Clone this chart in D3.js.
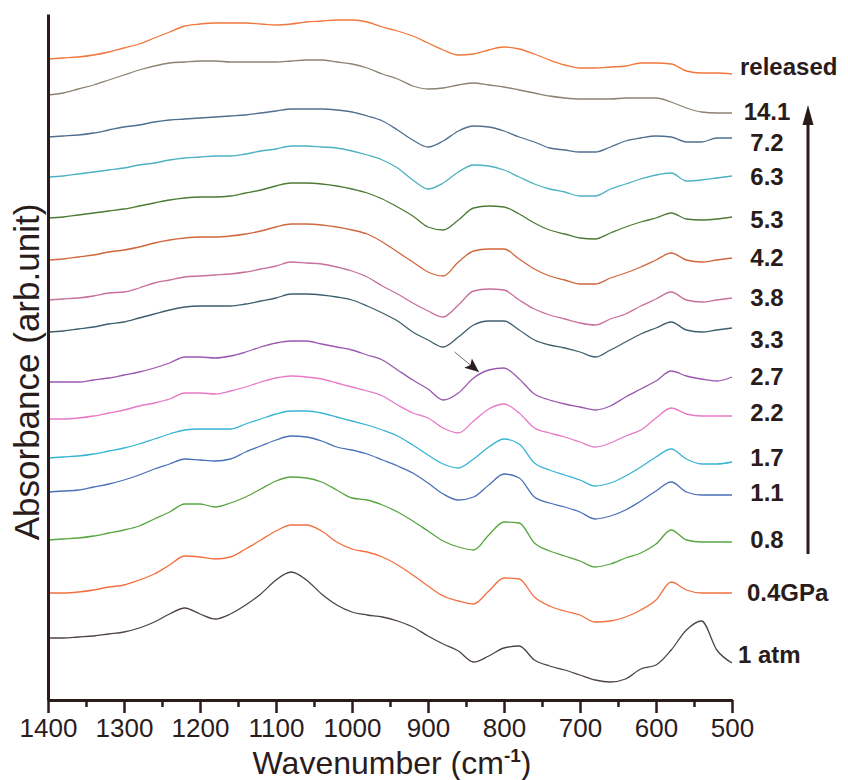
<!DOCTYPE html>
<html>
<head>
<meta charset="utf-8">
<script src="https://cdn.jsdelivr.net/npm/d3@7"></script>
<style>
    body { margin: 0; background: #fff; }
    svg { display: block; }
</style>
</head>
<body>
<div id="container"></div>
<script>
(function () {
    // wavenumber grid (cm-1) shared by all spectra
    var wavenumbers = [1400, 1380, 1360, 1340, 1320, 1300, 1280, 1260, 1240, 1220, 1200, 1180, 1160, 1140, 1120,
        1100, 1080, 1060, 1040, 1020, 1000, 980, 960, 940, 920, 900, 880, 860, 840, 820,
        800, 780, 760, 740, 720, 700, 680, 660, 640, 620, 600, 580, 560, 540, 520, 500];

    // stacked absorbance (arb. unit, offset included)
    var released = [6.41, 6.42, 6.43, 6.45, 6.48, 6.52, 6.56, 6.62, 6.68, 6.74, 6.76, 6.77, 6.77, 6.77, 6.76,
        6.75, 6.76, 6.78, 6.79, 6.80, 6.80, 6.78, 6.73, 6.69, 6.64, 6.57, 6.50, 6.45, 6.46, 6.50,
        6.53, 6.51, 6.46, 6.40, 6.35, 6.32, 6.32, 6.33, 6.34, 6.37, 6.37, 6.36, 6.29, 6.27, 6.27, 6.26];
    var p141 = [6.05, 6.07, 6.11, 6.15, 6.20, 6.25, 6.30, 6.34, 6.37, 6.38, 6.39, 6.39, 6.38, 6.38, 6.38,
        6.38, 6.39, 6.40, 6.40, 6.38, 6.36, 6.32, 6.26, 6.21, 6.14, 6.11, 6.12, 6.15, 6.17, 6.15,
        6.13, 6.10, 6.07, 6.04, 6.02, 6.01, 6.01, 6.01, 6.02, 6.02, 6.02, 5.98, 5.92, 5.88, 5.87, 5.87];
    var p72 = [5.63, 5.64, 5.65, 5.67, 5.70, 5.73, 5.75, 5.78, 5.80, 5.81, 5.82, 5.83, 5.84, 5.85, 5.87,
        5.89, 5.91, 5.91, 5.91, 5.90, 5.88, 5.84, 5.79, 5.70, 5.60, 5.53, 5.59, 5.69, 5.74, 5.73,
        5.69, 5.63, 5.58, 5.52, 5.50, 5.48, 5.48, 5.53, 5.59, 5.62, 5.64, 5.63, 5.58, 5.58, 5.62, 5.62];
    var p63 = [5.23, 5.24, 5.26, 5.28, 5.30, 5.32, 5.35, 5.37, 5.40, 5.42, 5.43, 5.44, 5.44, 5.46, 5.49,
        5.51, 5.54, 5.54, 5.53, 5.52, 5.49, 5.45, 5.40, 5.32, 5.20, 5.11, 5.17, 5.28, 5.35, 5.34,
        5.30, 5.23, 5.16, 5.11, 5.08, 5.04, 5.04, 5.11, 5.16, 5.21, 5.25, 5.27, 5.19, 5.20, 5.22, 5.24];
    var p53 = [4.82, 4.83, 4.85, 4.87, 4.89, 4.91, 4.94, 4.97, 5.00, 5.02, 5.03, 5.03, 5.04, 5.07, 5.10,
        5.14, 5.17, 5.17, 5.16, 5.14, 5.11, 5.07, 5.01, 4.93, 4.84, 4.73, 4.70, 4.80, 4.92, 4.94,
        4.93, 4.86, 4.77, 4.70, 4.66, 4.62, 4.61, 4.67, 4.73, 4.78, 4.82, 4.87, 4.81, 4.80, 4.81, 4.83];
    var p42 = [4.40, 4.41, 4.43, 4.45, 4.48, 4.50, 4.53, 4.57, 4.60, 4.62, 4.63, 4.63, 4.64, 4.66, 4.69,
        4.73, 4.76, 4.76, 4.75, 4.73, 4.70, 4.66, 4.58, 4.48, 4.38, 4.28, 4.24, 4.38, 4.49, 4.51,
        4.51, 4.41, 4.31, 4.24, 4.20, 4.16, 4.16, 4.22, 4.27, 4.33, 4.40, 4.47, 4.40, 4.38, 4.40, 4.42];
    var p38 = [4.00, 4.01, 4.02, 4.04, 4.07, 4.08, 4.12, 4.17, 4.20, 4.23, 4.24, 4.25, 4.26, 4.28, 4.31,
        4.34, 4.38, 4.37, 4.36, 4.33, 4.29, 4.23, 4.14, 4.06, 3.97, 3.89, 3.83, 3.95, 4.09, 4.11,
        4.10, 4.00, 3.91, 3.85, 3.81, 3.77, 3.75, 3.81, 3.86, 3.94, 4.01, 4.08, 4.00, 3.98, 4.00, 4.02];
    var p33 = [3.68, 3.69, 3.71, 3.73, 3.76, 3.78, 3.82, 3.86, 3.90, 3.93, 3.94, 3.94, 3.94, 3.96, 3.99,
        4.02, 4.06, 4.06, 4.05, 4.03, 4.00, 3.94, 3.87, 3.79, 3.68, 3.60, 3.53, 3.63, 3.75, 3.79,
        3.79, 3.70, 3.60, 3.55, 3.52, 3.48, 3.43, 3.50, 3.58, 3.66, 3.72, 3.78, 3.70, 3.68, 3.70, 3.72];
    var p27 = [3.18, 3.18, 3.18, 3.20, 3.22, 3.25, 3.28, 3.32, 3.37, 3.43, 3.43, 3.42, 3.44, 3.48, 3.53,
        3.57, 3.59, 3.59, 3.56, 3.53, 3.50, 3.45, 3.40, 3.30, 3.20, 3.11, 3.00, 3.07, 3.22, 3.30,
        3.32, 3.21, 3.06, 3.00, 2.96, 2.93, 2.90, 2.94, 3.03, 3.11, 3.19, 3.29, 3.24, 3.21, 3.19, 3.23];
    var p22 = [2.81, 2.81, 2.82, 2.84, 2.87, 2.90, 2.94, 2.97, 3.01, 3.07, 3.07, 3.06, 3.09, 3.13, 3.18,
        3.22, 3.24, 3.23, 3.21, 3.17, 3.13, 3.09, 3.04, 2.95, 2.87, 2.82, 2.72, 2.67, 2.79, 2.91,
        2.96, 2.87, 2.72, 2.67, 2.63, 2.58, 2.53, 2.57, 2.64, 2.70, 2.82, 2.92, 2.86, 2.84, 2.84, 2.84];
    var p17 = [2.42, 2.43, 2.44, 2.46, 2.49, 2.52, 2.56, 2.61, 2.66, 2.70, 2.71, 2.71, 2.71, 2.76, 2.81,
        2.86, 2.89, 2.89, 2.87, 2.83, 2.79, 2.75, 2.70, 2.64, 2.55, 2.45, 2.36, 2.32, 2.41, 2.53,
        2.61, 2.56, 2.37, 2.30, 2.25, 2.20, 2.14, 2.17, 2.24, 2.33, 2.43, 2.51, 2.41, 2.36, 2.36, 2.38];
    var p11 = [2.08, 2.09, 2.10, 2.13, 2.16, 2.20, 2.25, 2.31, 2.36, 2.41, 2.40, 2.39, 2.41, 2.48, 2.54,
        2.60, 2.64, 2.63, 2.59, 2.53, 2.50, 2.46, 2.40, 2.34, 2.27, 2.17, 2.06, 2.00, 2.03, 2.15,
        2.26, 2.22, 2.03, 1.97, 1.93, 1.88, 1.81, 1.84, 1.90, 1.99, 2.09, 2.18, 2.08, 2.05, 2.05, 2.05];
    var p08 = [1.60, 1.61, 1.62, 1.64, 1.67, 1.70, 1.74, 1.81, 1.88, 1.96, 1.96, 1.93, 1.97, 2.03, 2.11,
        2.19, 2.23, 2.22, 2.18, 2.10, 2.02, 2.00, 1.95, 1.88, 1.79, 1.69, 1.59, 1.53, 1.50, 1.65,
        1.78, 1.77, 1.57, 1.49, 1.44, 1.39, 1.33, 1.36, 1.42, 1.47, 1.56, 1.70, 1.60, 1.58, 1.58, 1.58];
    var p04 = [1.07, 1.07, 1.08, 1.10, 1.13, 1.15, 1.20, 1.26, 1.35, 1.44, 1.43, 1.41, 1.43, 1.51, 1.60,
        1.69, 1.75, 1.75, 1.69, 1.58, 1.51, 1.48, 1.43, 1.35, 1.25, 1.14, 1.04, 0.99, 0.96, 1.09,
        1.22, 1.21, 1.03, 0.94, 0.89, 0.85, 0.78, 0.79, 0.83, 0.90, 1.00, 1.18, 1.10, 1.07, 1.07, 1.07];
    var atm1 = [0.62, 0.62, 0.63, 0.64, 0.66, 0.68, 0.72, 0.78, 0.86, 0.92, 0.86, 0.81, 0.86, 0.95, 1.06,
        1.20, 1.28, 1.20, 1.06, 0.95, 0.88, 0.85, 0.83, 0.79, 0.73, 0.64, 0.56, 0.49, 0.38, 0.44,
        0.52, 0.54, 0.40, 0.34, 0.30, 0.25, 0.20, 0.18, 0.21, 0.31, 0.35, 0.50, 0.70, 0.79, 0.50, 0.37];

    var spectra = [released, p141, p72, p63, p53, p42, p38, p33, p27, p22, p17, p11, p08, p04, atm1];
    var seriesLabels = ['released', '14.1', '7.2', '6.3', '5.3', '4.2', '3.8', '3.3', '2.7', '2.2', '1.7', '1.1', '0.8', '0.4', '1 atm'];
    var seriesColors = ['#f2773c', '#8c8272', '#4f6f8f', '#4cb2c2', '#4d7a35', '#d0673c', '#c8709c', '#3f5f6f',
        '#9a58b0', '#e878c8', '#38b4d4', '#4a70b8', '#58a540', '#f47040', '#4f4444'];
    // small vertical nudge (px) of each right-hand label
    var labelNudge = [-7, -1, 5, 1, 3, 0, 0, 12, 0, -3, -4, -2, -2, 0, -8];

    var xMajor = [1400, 1300, 1200, 1100, 1000, 900, 800, 700, 600, 500];
    var xMinor = [1350, 1250, 1150, 1050, 950, 850, 750, 650, 550];

    // little arrow pointing at the 2.7 GPa shoulder: [wavenumber, absorbance]
    var shoulderArrow = [[865, 3.48], [833, 3.28]];

    var width = 848, height = 780;
    var ink = '#2b1c1c';

    var svg = d3.select('#container')
        .append('svg')
        .attr('width', width)
        .attr('height', height);

    var x = d3.scaleLinear().domain([1400, 500]).range([48, 732]);
    var y = d3.scaleLinear().domain([0, 6.86]).range([700, 14]);

    // spectra
    var line = d3.line()
        .x(function (d, i) { return x(wavenumbers[i]); })
        .y(function (d) { return y(d); })
        .curve(d3.curveMonotoneX);

    svg.append('g')
        .selectAll('path')
        .data(spectra)
        .enter()
        .append('path')
        .attr('d', line)
        .attr('fill', 'none')
        .attr('stroke', function (d, i) { return seriesColors[i]; })
        .attr('stroke-width', 1.3);

    // x axis: minor ticks then major ticks with labels
    var xMinorAxis = svg.append('g')
        .attr('transform', 'translate(0,700)')
        .call(d3.axisBottom(x).tickValues(xMinor).tickSize(7).tickSizeOuter(0).tickFormat(''));
    var xAxis = svg.append('g')
        .attr('transform', 'translate(0,700)')
        .call(d3.axisBottom(x).tickValues(xMajor).tickSize(13).tickSizeOuter(0).tickPadding(6)
            .tickFormat(d3.format('d')));

    // y axis: a bare line, no ticks
    var yAxis = svg.append('g')
        .attr('transform', 'translate(48,0)')
        .call(d3.axisLeft(y).tickValues([]).tickSizeOuter(0));

    [xMinorAxis, xAxis, yAxis].forEach(function (g) {
        g.selectAll('path').attr('stroke', ink).attr('stroke-width', 3);
        g.selectAll('line').attr('stroke', ink).attr('stroke-width', 2.5);
    });
    xAxis.selectAll('text')
        .attr('fill', ink)
        .style('font-family', '"Liberation Sans", Arial, sans-serif')
        .style('font-size', '26px');

    // axis titles
    var xTitle = svg.append('text')
        .attr('x', 392)
        .attr('y', 774)
        .attr('text-anchor', 'middle')
        .attr('fill', ink)
        .style('font-family', '"Liberation Sans", Arial, sans-serif')
        .style('font-size', '32px');
    xTitle.append('tspan').text('Wavenumber (cm');
    xTitle.append('tspan').attr('dy', -12).style('font-size', '19px').style('font-weight', 'bold').text('-1');
    xTitle.append('tspan').attr('dy', 12).text(')');

    svg.append('text')
        .attr('transform', 'translate(39,372) rotate(-90)')
        .attr('text-anchor', 'middle')
        .attr('fill', ink)
        .style('font-family', '"Liberation Sans", Arial, sans-serif')
        .style('font-size', '35px')
        .text('Absorbance (arb.unit)');

    // right-hand pressure labels
    var lastIdx = wavenumbers.length - 1;
    svg.append('g')
        .selectAll('text')
        .data(seriesLabels)
        .enter()
        .append('text')
        .attr('x', function (d) {
            if (d === 'released') return x(500) + 8;
            if (d === '1 atm') return x(500) + 6;
            if (d === '0.4') return x(500) + 15;
            return x(500) + 35;
        })
        .attr('y', function (d, i) { return y(spectra[i][lastIdx]) + labelNudge[i]; })
        .attr('dy', '0.35em')
        .attr('text-anchor', function (d) {
            return (d === 'released' || d === '1 atm' || d === '0.4') ? 'start' : 'middle';
        })
        .attr('fill', ink)
        .style('font-family', '"Liberation Sans", Arial, sans-serif')
        .style('font-weight', 'bold')
        .style('font-size', '24px')
        .text(function (d) { return d === '0.4' ? '0.4GPa' : d; });

    // long arrow: increasing pressure
    var arrowX = x(500) + 76;
    var arrowBottom = y(p08[lastIdx]) + 12;
    var arrowTop = y(p141[lastIdx]) - 8;
    svg.append('line')
        .attr('x1', arrowX).attr('x2', arrowX)
        .attr('y1', arrowBottom).attr('y2', arrowTop + 14)
        .attr('stroke', ink)
        .attr('stroke-width', 3);
    svg.append('path')
        .attr('d', 'M' + arrowX + ',' + arrowTop + 'l-5.5,20l11,0z')
        .attr('fill', ink);

    // small arrow inside the plot
    var ax0 = x(shoulderArrow[0][0]), ay0 = y(shoulderArrow[0][1]);
    var ax1 = x(shoulderArrow[1][0]), ay1 = y(shoulderArrow[1][1]);
    var ang = Math.atan2(ay1 - ay0, ax1 - ax0) * 180 / Math.PI;
    svg.append('line')
        .attr('x1', ax0).attr('y1', ay0)
        .attr('x2', ax1).attr('y2', ay1)
        .attr('stroke', '#7a6a6a')
        .attr('stroke-width', 1);
    svg.append('path')
        .attr('d', 'M0,0L-14,-6L-11,0L-14,6Z')
        .attr('transform', 'translate(' + ax1 + ',' + ay1 + ') rotate(' + ang + ')')
        .attr('fill', '#2a2020');
})();
</script>
</body>
</html>
